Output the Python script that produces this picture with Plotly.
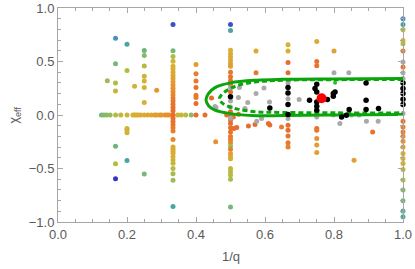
import plotly.graph_objects as go

# ---------- data ----------
# coloured simulation points: x = 1/q, y = chi_eff, c = colour parameter (0 blue .. 1 red-orange)
zero_x = [0.126, 0.133, 0.141, 0.151, 0.167, 0.182, 0.2, 0.217, 0.222, 0.227, 0.233, 0.24, 0.25,
          0.26, 0.27, 0.28, 0.286, 0.295, 0.3, 0.31, 0.316, 0.322, 0.347, 0.357, 0.37, 0.386,
          0.4, 0.426, 0.489]
zero_c = [0.45, 0.48, 0.5, 0.52, 0.6, 0.64, 0.68, 0.72, 0.72, 0.73, 0.74, 0.74, 0.75,
          0.76, 0.77, 0.78, 0.8, 0.8, 0.82, 0.83, 0.84, 0.85, 0.68, 0.66, 0.62, 0.5,
          0.95, 0.95, 0.95]

third_y = [0.846, 0.60, 0.546, 0.502, 0.455, 0.43, 0.40, 0.37, 0.34, 0.31, 0.28, 0.25, 0.22,
           0.19, 0.16, 0.13, 0.10, 0.07, 0.04, 0.0, -0.03, -0.06, -0.09, -0.12, -0.15, -0.23,
           -0.30, -0.32, -0.34, -0.36, -0.39, -0.42, -0.45, -0.50, -0.55, -0.61, -0.855]
third_c = [0.05, 0.45, 0.6, 0.7, 0.72, 0.73, 0.74, 0.76, 0.78, 0.8, 0.82, 0.84, 0.86,
           0.88, 0.9, 0.92, 0.93, 0.94, 0.95, 0.95, 0.95, 0.94, 0.93, 0.92, 0.9, 0.88,
           0.76, 0.75, 0.74, 0.73, 0.72, 0.7, 0.66, 0.63, 0.58, 0.55, 0.3]

half_y = [0.846, 0.79, 0.604, 0.573, 0.541, 0.51, 0.48, 0.455, 0.40, 0.357, 0.32, 0.285, 0.215,
          0.03, 0.0, -0.05, -0.08, -0.12, -0.16, -0.20, -0.23, -0.26, -0.29, -0.32, -0.36,
          -0.39, -0.41, -0.50, -0.53, -0.56, -0.60, -0.86]
half_c = [0.05, 0.3, 0.72, 0.73, 0.74, 0.76, 0.78, 0.8, 0.92, 0.93, 0.94, 0.95, 0.95,
          0.95, 0.95, 0.95, 0.95, 0.94, 0.93, 0.92, 0.9, 0.88, 0.55, 0.9, 0.8,
          0.76, 0.74, 0.65, 0.62, 0.6, 0.58, 0.45]

one_y = [0.899, 0.846, 0.797, 0.697, 0.666, 0.597, 0.448, -0.058, -0.111, -0.158, -0.198,
         -0.245, -0.298, -0.359, -0.406, -0.453, -0.509, -0.608, -0.702, -0.801, -0.897, -0.951]
one_c = [0.15, 0.3, 0.62, 0.72, 0.6, 0.92, 0.92, 0.93, 0.92, 0.9, 0.88,
         0.86, 0.8, 0.75, 0.72, 0.7, 0.65, 0.6, 0.5, 0.45, 0.35, 0.32]

other_x = [0.143, 0.1667, 0.1667, 0.1667, 0.1667, 0.1667, 0.1667, 0.1667,
           0.2, 0.2, 0.2, 0.2, 0.2, 0.2, 0.222,
           0.25, 0.25, 0.25, 0.25, 0.25, 0.25, 0.25, 0.25, 0.286,
           0.4, 0.4, 0.4, 0.4, 0.4, 0.4, 0.4, 0.445, 0.457,
           0.508, 0.51, 0.518, 0.523, 0.552, 0.571, 0.61, 0.614, 0.648, 0.574, 0.574,
           0.6667, 0.6667, 0.6667, 0.6667, 0.6667, 0.6667, 0.6667, 0.6667, 0.6667,
           0.75, 0.75, 0.75, 0.75, 0.75, 0.75, 0.75, 0.75, 0.8, 0.858, 0.912]
other_y = [0.321, 0.718, 0.48, 0.299, 0.224, -0.291, -0.456, -0.596,
           0.662, 0.417, -0.126, -0.142, -0.167, -0.425, 0.268,
           0.603, 0.557, 0.458, 0.361, 0.318, 0.256, 0.116, -0.552, 0.231,
           0.473, 0.386, 0.318, 0.256, 0.184, 0.163, 0.107, 0.159, -0.251,
           -0.018, -0.126, -0.117, 0.007, -0.102, -0.089, -0.08, -0.093, -0.111, 0.597, 0.396,
           0.656, 0.597, 0.49, 0.396, -0.095, -0.143, -0.196, -0.26, -0.30,
           0.688, 0.501, 0.461, -0.127, -0.143, -0.22, -0.28, -0.35, 0.597, -0.422, -0.158]
other_c = [0.55, 0.18, 0.45, 0.6, 0.68, 0.42, 0.6, 0.0,
           0.3, 0.6, 0.7, 0.7, 0.7, 0.3, 0.7,
           0.42, 0.5, 0.62, 0.68, 0.7, 0.7, 0.72, 0.45, 0.82,
           0.8, 0.9, 0.92, 0.93, 0.92, 0.92, 0.95, 0.95, 0.85,
           0.95, 0.95, 0.95, 0.95, 0.95, 0.95, 0.95, 0.95, 0.9, 0.75, 0.92,
           0.72, 0.73, 0.95, 0.95, 0.95, 0.95, 0.93, 0.92, 0.9,
           0.74, 0.93, 0.93, 0.95, 0.92, 0.85, 0.8, 0.78, 0.78, 0.78, 0.93]

gray_x = [0.5, 0.5, 0.5, 0.5, 0.455, 0.458, 0.523, 0.55, 0.542, 0.526, 0.574, 0.597, 0.613,
          0.59, 0.576, 0.6667, 0.6667, 0.6667, 0.699, 0.75, 0.798, 0.817, 0.851, 0.873,
          0.894, 0.928, 0.8, 0.843, 1.0, 1.0, 1.0, 1.0]
gray_y = [0.255, 0.13, 0.075, -0.03, 0.08, 0.07, 0.163, 0.116, 0.06, 0.256, 0.2, 0.252, 0.122,
          -0.033, -0.058, 0.30, 0.153, -0.033, 0.144, -0.018, 0.0, -0.08, 0.0, 0.0,
          -0.058, -0.058, 0.396, 0.396, 0.495, 0.396, 0.34, 0.014]

black_x = [0.6667, 0.6667, 0.6667, 0.6667, 0.5, 0.614, 0.75, 0.745, 0.75, 0.75, 0.75, 0.75,
           0.729, 0.781, 0.798, 0.803, 0.798, 0.893, 0.893, 0.893, 0.844, 0.822, 0.836,
           0.929, 1.0, 1.0, 1.0, 1.0, 1.0]
black_y = [0.256, 0.206, 0.097, 0.004, 0.17, 0.066, 0.287, 0.247, 0.215, 0.122, 0.081, 0.044,
           0.138, 0.144, 0.2, 0.215, 0.175, 0.299, 0.138, 0.051, 0.051, -0.018, -0.003,
           0.06, 0.299, 0.247, 0.2, 0.147, 0.097]

green_pt_x = [0.803]
green_pt_y = [0.302]

red_x = [0.764]
red_y = [0.156]

# contour curves (open at x = 1)
solid_x = [1.0, 0.8, 0.65, 0.576, 0.5, 0.455, 0.436, 0.429, 0.437, 0.455, 0.5, 0.576, 0.65, 0.8, 1.0]
solid_y = [0.34, 0.337, 0.333, 0.325, 0.3, 0.256, 0.2, 0.14, 0.085, 0.046, 0.013, -0.006, -0.005, 0.0, 0.004]
dash_x = [1.0, 0.8, 0.65, 0.576, 0.52, 0.49, 0.473, 0.468, 0.475, 0.49, 0.52, 0.576, 0.65, 0.8, 1.0]
dash_y = [0.332, 0.33, 0.325, 0.31, 0.275, 0.23, 0.185, 0.15, 0.115, 0.085, 0.055, 0.03, 0.024, 0.02, 0.02]

x_title = "1/q"
y_title = "χ<sub>eff</sub>"

# ---------- assemble ----------
cx = zero_x + [1/3] * len(third_y) + [0.5] * len(half_y) + [1.0] * len(one_y) + other_x
cy = [0.0] * len(zero_x) + third_y + half_y + one_y + other_y
cc = zero_c + third_c + half_c + one_c + other_c

cscale = [[0.0, "#3434c6"], [0.15, "#4a8cc2"], [0.3, "#48a6a2"], [0.45, "#76b878"],
          [0.6, "#b2bc42"], [0.72, "#d8b034"], [0.85, "#e8902e"], [1.0, "#e85c2a"]]

fig = go.Figure()
fig.add_trace(go.Scatter(x=cx, y=cy, mode="markers", cliponaxis=False,
                         marker=dict(size=5, color=cc, colorscale=cscale, cmin=0, cmax=1,
                                     line=dict(width=0))))
fig.add_trace(go.Scatter(x=gray_x, y=gray_y, mode="markers", cliponaxis=False,
                         marker=dict(size=5, color="#a9a9a9", line=dict(width=0))))
fig.add_trace(go.Scatter(x=solid_x, y=solid_y, mode="lines", line_shape="spline",
                         line=dict(color="#0aa50a", width=3)))
fig.add_trace(go.Scatter(x=dash_x, y=dash_y, mode="lines", line_shape="spline",
                         line=dict(color="#0aa50a", width=3, dash="5px,3px")))
fig.add_trace(go.Scatter(x=black_x, y=black_y, mode="markers", cliponaxis=False,
                         marker=dict(size=5.5, color="#000000", line=dict(width=0))))
fig.add_trace(go.Scatter(x=green_pt_x, y=green_pt_y, mode="markers",
                         marker=dict(size=4, color="#22c022", line=dict(width=0))))
fig.add_trace(go.Scatter(x=red_x, y=red_y, mode="markers",
                         marker=dict(size=10, color="#ff0000", line=dict(width=0))))

axis_common = dict(showline=True, linecolor="#a6a6a6", linewidth=1, mirror="ticks",
                   ticks="inside", tickcolor="#a6a6a6", ticklen=5, tickwidth=1,
                   showgrid=False, zeroline=False, tickformat=".1f", automargin=False,
                   tickfont=dict(family="Liberation Sans", size=13, color="#5a5a5a"))

fig.update_xaxes(range=[0, 1], dtick=0.2, tick0=0,
                 minor=dict(dtick=0.05, ticks="inside", ticklen=3, tickcolor="#a6a6a6", showgrid=False),
                 **axis_common)
fig.update_yaxes(range=[-1, 1], dtick=0.5, tick0=0,
                 minor=dict(dtick=0.1, ticks="inside", ticklen=3, tickcolor="#a6a6a6", showgrid=False),
                 **axis_common)

title_font = dict(family="Liberation Sans", size=13, color="#5a5a5a")
fig.add_annotation(text=x_title, xref="paper", yref="paper", x=0.5, y=-0.163,
                   showarrow=False, font=title_font, xanchor="center", yanchor="middle")
fig.add_annotation(text=y_title, xref="paper", yref="paper", x=-0.128, y=0.5,
                   showarrow=False, font=title_font, textangle=-90,
                   xanchor="center", yanchor="middle")

fig.update_layout(width=415, height=269, showlegend=False,
                  margin=dict(l=58, r=12, t=8, b=47, autoexpand=False),
                  paper_bgcolor="white", plot_bgcolor="white")

fig.write_html("out.html", config={"displayModeBar": False},
               post_script="document.body.style.margin='0';document.body.style.padding='0';")
